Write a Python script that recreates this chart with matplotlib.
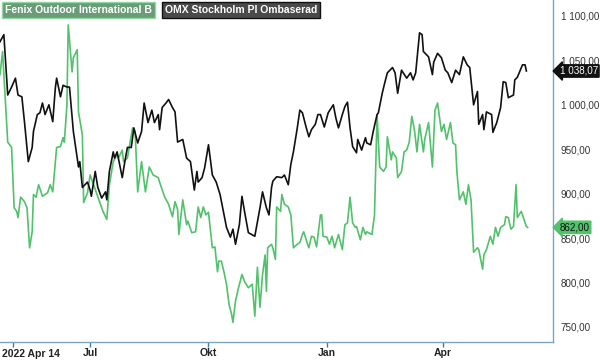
import matplotlib
matplotlib.use("Agg")
import matplotlib.pyplot as plt
from matplotlib.transforms import blended_transform_factory

# x: calendar days since 2022-04-22 (chart start)
omx_days = [0, 3, 6, 9, 12, 14, 17, 19, 22, 25, 26, 29, 31, 33, 35, 38, 41, 43, 44, 47,
            49, 52, 54, 57, 61, 62, 64, 68, 70, 71, 74, 76, 79, 82, 83, 85, 88, 89, 91, 95,
            97, 99, 102, 104, 107, 110, 112, 115, 118, 120, 123, 124, 126, 129, 131, 134, 136, 138, 142, 145,
            148, 151, 153, 154, 157, 159, 162, 165, 168, 171, 173, 176, 179, 181, 183, 186, 188, 190, 193, 198,
            202, 204, 207, 209, 211, 212, 215, 219, 221, 224, 226, 228, 231, 233, 235, 238, 240, 242, 245, 247,
            249, 252, 255, 259, 261, 263, 266, 268, 270, 272, 274, 277, 278, 281, 284, 285, 288, 290, 293, 294,
            297, 299, 301, 305, 307, 309, 312, 316, 319, 321, 323, 326, 328, 329, 333, 336, 337, 340, 343, 346,
            348, 351, 354, 357, 360, 363, 365, 368, 371, 372, 375, 376, 378, 382, 383, 386, 389, 391, 393, 395,
            399, 400, 402, 406, 408, 409]
omx_vals = [1071, 1079, 1011, 1020, 1030, 1011, 1009, 981, 936, 952, 970, 989, 991, 1002, 989, 1000, 981, 1019, 1030, 1009,
            1022, 1020, 1020, 970, 930, 936, 907, 913, 904, 897, 925, 907, 895, 902, 893, 925, 947, 940, 947, 918,
            936, 952, 952, 974, 957, 970, 1002, 980, 994, 980, 989, 972, 997, 1002, 1006, 997, 992, 958, 961, 940,
            936, 904, 925, 913, 918, 929, 955, 921, 913, 899, 884, 862, 851, 860, 843, 865, 897, 880, 856, 852,
            884, 902, 884, 876, 907, 914, 919, 918, 921, 910, 933, 947, 974, 994, 991, 974, 964, 972, 978, 989,
            989, 975, 991, 1000, 985, 974, 989, 998, 1003, 974, 953, 946, 961, 949, 963, 957, 955, 970, 989, 991,
            1013, 1025, 1036, 1042, 1036, 1013, 1039, 1030, 1036, 1028, 1036, 1081, 1079, 1060, 1054, 1034, 1048, 1058, 1053, 1039,
            1036, 1025, 1039, 1034, 1054, 1045, 1042, 1000, 1015, 978, 989, 972, 992, 989, 969, 980, 997, 1026, 1025, 1008,
            1011, 1028, 1031, 1045, 1045, 1038.07]

fenix_days = [0, 2, 6, 9, 11, 13, 14, 16, 19, 21, 23, 25, 26, 28, 30, 33, 37, 39, 41, 44,
              47, 49, 50, 52, 53, 56, 57, 60, 61, 64, 65, 68, 70, 72, 78, 80, 83, 85, 88, 91,
              92, 95, 96, 99, 103, 105, 107, 110, 113, 116, 119, 123, 124, 128, 131, 134, 136, 138, 139, 142,
              145, 146, 149, 152, 154, 156, 158, 160, 162, 165, 167, 169, 170, 172, 174, 176, 178, 180, 181, 183,
              185, 188, 190, 193, 196, 198, 200, 202, 204, 206, 207, 208, 211, 212, 214, 215, 218, 219, 221, 224,
              226, 228, 231, 233, 235, 236, 239, 240, 242, 244, 246, 249, 250, 251, 254, 256, 258, 260, 263, 266,
              268, 270, 272, 274, 276, 277, 280, 282, 284, 285, 289, 291, 293, 295, 298, 300, 301, 304, 305, 308,
              309, 312, 314, 316, 318, 320, 322, 324, 326, 329, 330, 333, 336, 338, 340, 343, 345, 347, 350, 352,
              354, 355, 357, 360, 362, 364, 366, 368, 371, 372, 375, 376, 378, 381, 383, 385, 387, 389, 392, 393,
              395, 397, 399, 401, 402, 405, 406, 409, 410]
fenix_vals = [1034, 1060, 958, 952, 884, 880, 873, 896, 891, 884, 839, 857, 899, 896, 910, 897, 901, 910, 902, 952,
              953, 963, 958, 1000, 1090, 1037, 1053, 1062, 992, 966, 890, 901, 921, 913, 888, 880, 871, 910, 936, 944,
              940, 949, 936, 940, 974, 970, 902, 936, 902, 930, 921, 918, 913, 896, 888, 874, 891, 882, 854, 893,
              865, 869, 856, 857, 885, 873, 885, 876, 879, 839, 840, 812, 824, 824, 812, 798, 775, 764, 755, 779,
              792, 809, 801, 794, 798, 762, 817, 772, 809, 831, 790, 839, 843, 839, 826, 885, 880, 899, 888, 885,
              876, 839, 843, 845, 854, 857, 843, 839, 852, 851, 840, 876, 876, 852, 851, 843, 852, 839, 854, 837,
              865, 867, 896, 867, 862, 863, 848, 862, 854, 857, 854, 876, 989, 930, 925, 930, 964, 938, 947, 940,
              918, 925, 947, 949, 958, 987, 972, 947, 978, 947, 961, 980, 930, 994, 1002, 970, 978, 961, 980, 957,
              955, 925, 893, 902, 888, 910, 893, 834, 839, 837, 815, 831, 837, 852, 843, 862, 852, 862, 865, 874,
              873, 860, 863, 910, 873, 880, 876, 863, 862]

series_names = ["Fenix Outdoor International B", "OMX Stockholm PI Ombaserad"]
x_tick_days = [70, 162, 254, 344]
x_tick_labels = ["Jul", "Okt", "Jan", "Apr"]
start_tick_day = 10
start_label = "2022 Apr 14"
y_ticks = [750, 800, 850, 900, 950, 1000, 1050, 1100]

GREEN = "#52c16c"
AXC = "#7aa6c2"
plt.rcParams["font.family"] = ["Liberation Sans", "DejaVu Sans"]

fig = plt.figure(figsize=(6, 3.6), dpi=100)
ax = fig.add_axes([0.0, 18.5 / 360, 553 / 600, 341.5 / 360])

ax.plot(fenix_days, fenix_vals, color=GREEN, lw=1.2, solid_joinstyle="round")
ax.plot(omx_days, omx_vals, color="#111111", lw=1.2, solid_joinstyle="round")

ax.set_xlim(0, 429.7)
ax.set_ylim(733.5, 1118)

for s in ("left", "top"):
    ax.spines[s].set_visible(False)
for s in ("right", "bottom"):
    ax.spines[s].set_color(AXC)
    ax.spines[s].set_linewidth(1.0)

fmt = lambda v: f"{v:,.2f}".replace(",", " ").replace(".", ",")

ax.yaxis.tick_right()
ax.set_yticks(y_ticks)
ax.set_yticklabels([fmt(v) for v in y_ticks])
ax.tick_params(axis="y", length=0, pad=5.5, labelsize=7.1, labelcolor="#333333")

ax.set_xticks([start_tick_day] + x_tick_days)
ax.set_xticklabels([""] + x_tick_labels, fontweight="bold")
ax.tick_params(axis="x", length=3.5, width=1, color="#3a7ca5", pad=1.5, labelsize=7.5,
               labelcolor="#222222")
ax.xaxis.get_major_ticks()[0].tick1line.set_color("#e06060")
fig.text(2 / 600, 1 - 357 / 360, start_label, fontsize=7.5, fontweight="bold",
         color="#222222", ha="left", va="baseline")

# legend boxes
fig.text(5 / 600, 1 - 13 / 360, series_names[0], fontsize=7.5, fontweight="bold",
         color="white", ha="left", va="baseline",
         bbox=dict(boxstyle="square,pad=0.25", fc="#6a9d77", ec="#8fd6a0", lw=1))
fig.text(165 / 600, 1 - 13 / 360, series_names[1], fontsize=7.5, fontweight="bold",
         color="white", ha="left", va="baseline",
         bbox=dict(boxstyle="square,pad=0.25", fc="#4a4a4a", ec="#111111", lw=1))

# last value labels
tr = blended_transform_factory(ax.transAxes, ax.transData)
last_omx = omx_vals[-1]
last_fenix = fenix_vals[-1]
ax.text(1.012, last_omx, fmt(last_omx), transform=tr, fontsize=7.1, color="white",
        ha="left", va="center", clip_on=False, zorder=5,
        bbox=dict(boxstyle="larrow,pad=0.12", fc="#111111", ec="#111111"))
ax.text(1.012, last_fenix, fmt(last_fenix), transform=tr, fontsize=7.1, color="#111111",
        ha="left", va="center", clip_on=False, zorder=5,
        bbox=dict(boxstyle="larrow,pad=0.12", fc=GREEN, ec=GREEN))

fig.savefig("out.png", dpi=100)
